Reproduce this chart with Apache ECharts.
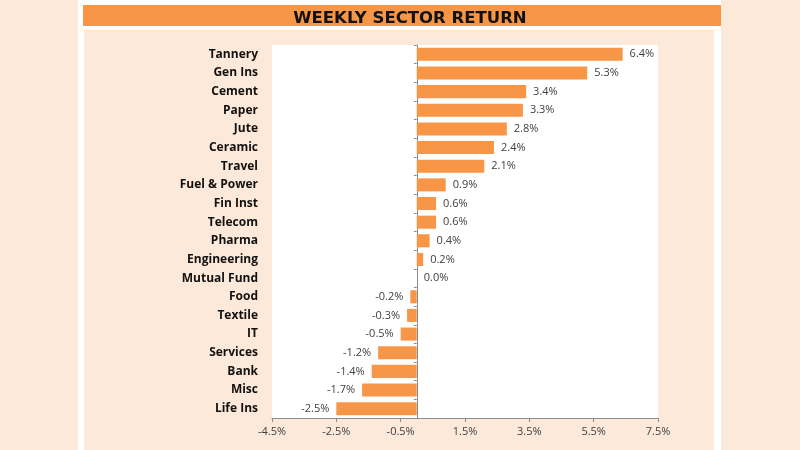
<!DOCTYPE html>
<html>
<head>
<meta charset="utf-8">
<script src="https://cdn.jsdelivr.net/npm/echarts@6/dist/echarts.min.js"></script>
<style>
html,body{margin:0;padding:0;background:#FDE9D9;}
#c{width:800px;height:450px;}
</style>
</head>
<body>
<div id="c"></div>
<script>
const categories = ["Tannery","Gen Ins","Cement","Paper","Jute","Ceramic","Travel","Fuel & Power","Fin Inst","Telecom","Pharma","Engineering","Mutual Fund","Food","Textile","IT","Services","Bank","Misc","Life Ins"];
const returns = [6.4,5.3,3.4,3.3,2.8,2.4,2.1,0.9,0.6,0.6,0.4,0.2,0.0,-0.2,-0.3,-0.5,-1.2,-1.4,-1.7,-2.5];
const titleText = "WEEKLY SECTOR RETURN";

const chart = echarts.init(document.getElementById('c'), null, {renderer:'canvas'});
const dataItems = returns.map(v => ({
  value: v,
  label: {position: v < 0 ? 'left' : 'right'}
}));
chart.setOption({
  backgroundColor: '#FDE9D9',
  animation: false,
  graphic: [
    {type:'rect', z:-100, shape:{x:78,y:0,width:643,height:450}, style:{fill:'#ffffff'}},
    {type:'rect', z:-99, shape:{x:83,y:5,width:638,height:21}, style:{fill:'#F79646'}},
    {type:'rect', z:-99, shape:{x:84,y:30,width:630,height:420}, style:{fill:'#FDE9D9'}}
  ],
  title: {
    text: titleText,
    left: 405,
    textAlign: 'center',
    top: 5,
    textStyle: {fontFamily:'DejaVu Sans', fontWeight:'bold', fontSize:16.5, color:'#111'}
  },
  grid: {
    left: 272, right: 142, top: 45, bottom: 32,
    show: true, backgroundColor: '#ffffff', borderWidth: 0
  },
  xAxis: {
    type: 'value',
    min: -4.5, max: 7.5, interval: 2,
    splitLine: {show:false},
    axisLine: {show:true, lineStyle:{color:'#8c8c8c'}},
    axisTick: {show:true, length:4, lineStyle:{color:'#8c8c8c'}},
    axisLabel: {
      fontFamily:'Open Sans', fontSize:11, color:'#404040', margin:8,
      formatter: v => v.toFixed(1) + '%'
    }
  },
  yAxis: [
    {
      type: 'category', data: categories, inverse: true, position: 'left',
      axisLine: {show:false, onZero:false}, axisTick: {show:false},
      axisLabel: {fontFamily:'Open Sans', fontWeight:'bold', fontSize:12, color:'#111', margin:14}
    },
    {
      type: 'category', data: categories, inverse: true, position: 'left',
      axisLine: {show:true, onZero:true, onZeroAxisIndex:0, lineStyle:{color:'#8c8c8c'}},
      axisTick: {show:true, length:3, lineStyle:{color:'#8c8c8c'}},
      axisLabel: {show:false}
    }
  ],
  series: [{
    type: 'bar',
    yAxisIndex: 0,
    data: dataItems,
    barCategoryGap: '30%',
    itemStyle: {color:'#F79646'},
    label: {
      show: true, distance: 7,
      fontFamily:'Open Sans', fontSize:11, color:'#404040',
      formatter: p => p.value.toFixed(1) + '%'
    }
  }]
});
</script>
</body>
</html>
